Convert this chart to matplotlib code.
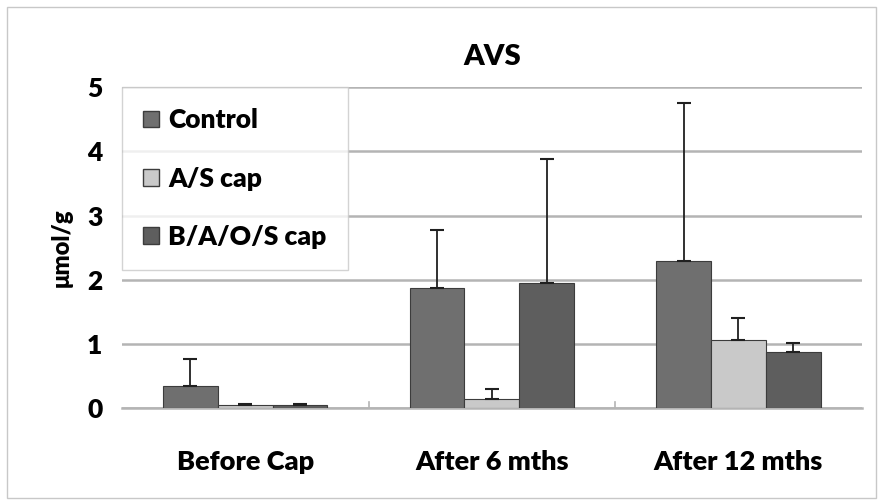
import numpy as np
import matplotlib
matplotlib.use('Agg')
import matplotlib.pyplot as plt
from matplotlib.patches import Rectangle

plt.rcParams['font.family'] = ['Lato', 'DejaVu Sans']
plt.rcParams['font.weight'] = 'heavy'

# 資料
categories = ['Before Cap', 'After 6 mths', 'After 12 mths']
series = ['Control', 'A/S cap', 'B/A/O/S cap']
means = {
    'Control': [0.35, 1.87, 2.30],
    'A/S cap': [0.05, 0.15, 1.07],
    'B/A/O/S cap': [0.05, 1.95, 0.88],
}
errs = {
    'Control': [0.42, 0.91, 2.45],
    'A/S cap': [0.01, 0.15, 0.33],
    'B/A/O/S cap': [0.01, 1.93, 0.14],
}
colors = {'Control': '#6f6f6f', 'A/S cap': '#c9c9c9', 'B/A/O/S cap': '#5e5e5e'}
yticks = [0, 1, 2, 3, 4, 5]
fw = 'heavy'

fig = plt.figure(figsize=(8.83, 5.04), dpi=100)
fig.patches.append(Rectangle((0.008, 0.012), 0.984, 0.975, transform=fig.transFigure,
                             fill=False, ec='#c8c8c8', lw=1))
ax = fig.add_axes([0.138, 0.19, 0.838, 0.637])

x = np.arange(len(categories))
w = 0.222
for i, s in enumerate(series):
    pos = x + (i - 1) * w
    ax.bar(pos, means[s], width=w, color=colors[s], edgecolor='#3c3c3c', lw=0.8, zorder=3)
    ax.errorbar(pos, means[s], yerr=[np.zeros(3), errs[s]], fmt='none', ecolor='#202020',
                elinewidth=1.3, capsize=5, capthick=1.5, zorder=4)

ax.set_xlim(-0.5, 2.5)
ax.set_ylim(0, 5)
ax.set_yticks(yticks)
ax.set_yticklabels([str(t) for t in yticks], fontsize=19, fontweight=fw)
ax.yaxis.grid(True, color='#b4b4b4', lw=1.8, zorder=0)
ax.set_axisbelow(True)
ax.tick_params(axis='y', length=0, pad=14)
ax.set_xticks(x)
ax.set_xticklabels(categories, fontsize=19.5, fontweight=fw)
ax.tick_params(axis='x', length=0, pad=30)
for b in [0.5, 1.5]:
    ax.plot([b, b], [0, 0.1], color='#b4b4b4', lw=1.2, zorder=1)
for sp in ['top', 'right', 'left']:
    ax.spines[sp].set_visible(False)
ax.spines['bottom'].set_color('#b4b4b4')
ax.spines['bottom'].set_linewidth(1.8)

ax.set_ylabel('μmol/g', fontsize=17, fontweight=fw, labelpad=10)
ax.set_title('AVS', fontsize=21, fontweight=fw, pad=16)

handles = [Rectangle((0, 0), 1, 1, color=colors[s], ec='#3c3c3c') for s in series]
leg = ax.legend(handles, series, loc='upper left', bbox_to_anchor=(0.0, 1.0),
                prop={'size': 19, 'weight': fw}, frameon=True, fancybox=False,
                handlelength=0.6, handleheight=0.6, handletextpad=0.35, labelspacing=1.3,
                borderpad=0.8, borderaxespad=0.0)
leg.get_frame().set_edgecolor('#c8c8c8')
leg.get_frame().set_linewidth(1)
leg.set_zorder(5)

fig.savefig('out.png', dpi=100)
